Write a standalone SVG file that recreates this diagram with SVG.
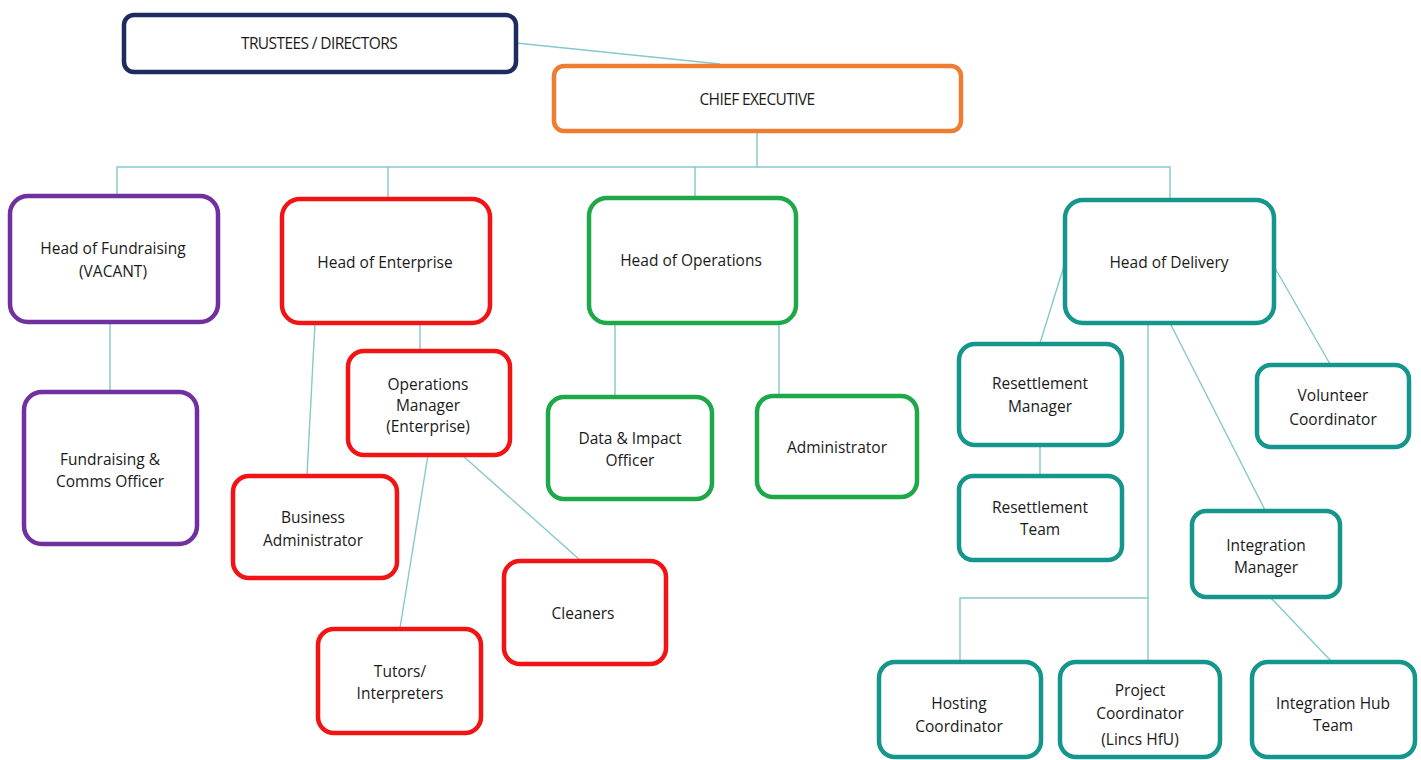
<svg xmlns="http://www.w3.org/2000/svg" width="1421" height="760" viewBox="0 0 1421 760">
<style>
.b{fill:#fff;stroke-width:4.5}
.navy{stroke:#1f2a60}
.org{stroke:#ed7d31}
.pur{stroke:#7030a0}
.red{stroke:#f21414}
.grn{stroke:#1fa84a}
.teal{stroke:#15968c}
text{font-family:"Open Sans","Liberation Sans",sans-serif;font-size:15.5px;fill:#1a1a1a;text-anchor:middle;dominant-baseline:central}
.sm{font-size:15.5px;letter-spacing:-0.6px}
#connectors{fill:none;stroke:#86c8cb;stroke-width:1.4}
</style>
<rect width="1421" height="760" fill="#fff"/>
<g id="connectors">
<line x1="516" y1="43" x2="720" y2="64"/>
<polyline points="757,131 757,167"/>
<polyline points="117,196 117,167 1170,167 1170,198"/>
<line x1="388" y1="167" x2="388" y2="198"/>
<line x1="695" y1="167" x2="695" y2="197"/>
<line x1="110" y1="322" x2="110" y2="391"/>
<line x1="420" y1="323" x2="420" y2="350"/>
<line x1="315" y1="323" x2="307" y2="475"/>
<line x1="428" y1="455" x2="400" y2="628"/>
<line x1="462" y1="455" x2="580" y2="560"/>
<line x1="615" y1="323" x2="615" y2="396"/>
<line x1="779" y1="323" x2="779" y2="395"/>
<line x1="1064" y1="266" x2="1040" y2="343"/>
<line x1="1040" y1="445" x2="1040" y2="475"/>
<line x1="1275" y1="268" x2="1330" y2="364"/>
<line x1="1170" y1="323" x2="1265" y2="510"/>
<polyline points="1148,323 1148,662"/>
<polyline points="960,662 960,598 1148,598"/>
<line x1="1270" y1="597" x2="1332" y2="662"/>
</g>
<g id="trustees"><rect class="b navy" x="124" y="15" width="392" height="57" rx="10"/><text class="sm" x="319" y="43">TRUSTEES / DIRECTORS</text></g>
<g id="ceo"><rect class="b org" x="554" y="66" width="407" height="65" rx="10"/><text class="sm" x="757" y="99">CHIEF EXECUTIVE</text></g>
<g id="head-fundraising"><rect class="b pur" x="10" y="196" width="208" height="126" rx="18"/><text x="113" y="248">Head of Fundraising</text><text x="113" y="271">(VACANT)</text></g>
<g id="fundraising-officer"><rect class="b pur" x="24" y="392" width="173" height="152" rx="18"/><text x="110" y="459">Fundraising &amp;</text><text x="110" y="481">Comms Officer</text></g>
<g id="head-enterprise"><rect class="b red" x="282" y="199" width="208" height="124" rx="18"/><text x="385" y="262">Head of Enterprise</text></g>
<g id="ops-manager"><rect class="b red" x="348" y="351" width="162" height="104" rx="16"/><text x="428" y="384">Operations</text><text x="428" y="405">Manager</text><text x="428" y="426">(Enterprise)</text></g>
<g id="business-admin"><rect class="b red" x="233" y="476" width="164" height="102" rx="16"/><text x="313" y="517">Business</text><text x="313" y="540">Administrator</text></g>
<g id="tutors"><rect class="b red" x="318" y="629" width="163" height="104" rx="16"/><text x="400" y="671">Tutors/</text><text x="400" y="693">Interpreters</text></g>
<g id="cleaners"><rect class="b red" x="504" y="561" width="162" height="103" rx="16"/><text x="583" y="613">Cleaners</text></g>
<g id="head-operations"><rect class="b grn" x="589" y="198" width="207" height="125" rx="18"/><text x="691" y="260">Head of Operations</text></g>
<g id="data-impact"><rect class="b grn" x="548" y="397" width="164" height="102" rx="16"/><text x="630" y="438">Data &amp; Impact</text><text x="630" y="460">Officer</text></g>
<g id="administrator"><rect class="b grn" x="757" y="396" width="160" height="101" rx="16"/><text x="837" y="447">Administrator</text></g>
<g id="head-delivery"><rect class="b teal" x="1065" y="200" width="209" height="123" rx="18"/><text x="1169" y="262">Head of Delivery</text></g>
<g id="resettlement-manager"><rect class="b teal" x="959" y="344" width="163" height="101" rx="16"/><text x="1040" y="383">Resettlement</text><text x="1040" y="406">Manager</text></g>
<g id="resettlement-team"><rect class="b teal" x="959" y="476" width="163" height="84" rx="14"/><text x="1040" y="507">Resettlement</text><text x="1040" y="529">Team</text></g>
<g id="volunteer"><rect class="b teal" x="1257" y="365" width="152" height="82" rx="14"/><text x="1333" y="395">Volunteer</text><text x="1333" y="419">Coordinator</text></g>
<g id="integration-manager"><rect class="b teal" x="1192" y="511" width="148" height="86" rx="14"/><text x="1266" y="545">Integration</text><text x="1266" y="567">Manager</text></g>
<g id="hosting"><rect class="b teal" x="879" y="662" width="162" height="95" rx="16"/><text x="959" y="703">Hosting</text><text x="959" y="726">Coordinator</text></g>
<g id="project"><rect class="b teal" x="1060" y="662" width="160" height="95" rx="16"/><text x="1140" y="690">Project</text><text x="1140" y="713">Coordinator</text><text x="1140" y="739">(Lincs HfU)</text></g>
<g id="hub-team"><rect class="b teal" x="1252" y="662" width="163" height="95" rx="16"/><text x="1333" y="703">Integration Hub</text><text x="1333" y="725">Team</text></g>
</svg>
